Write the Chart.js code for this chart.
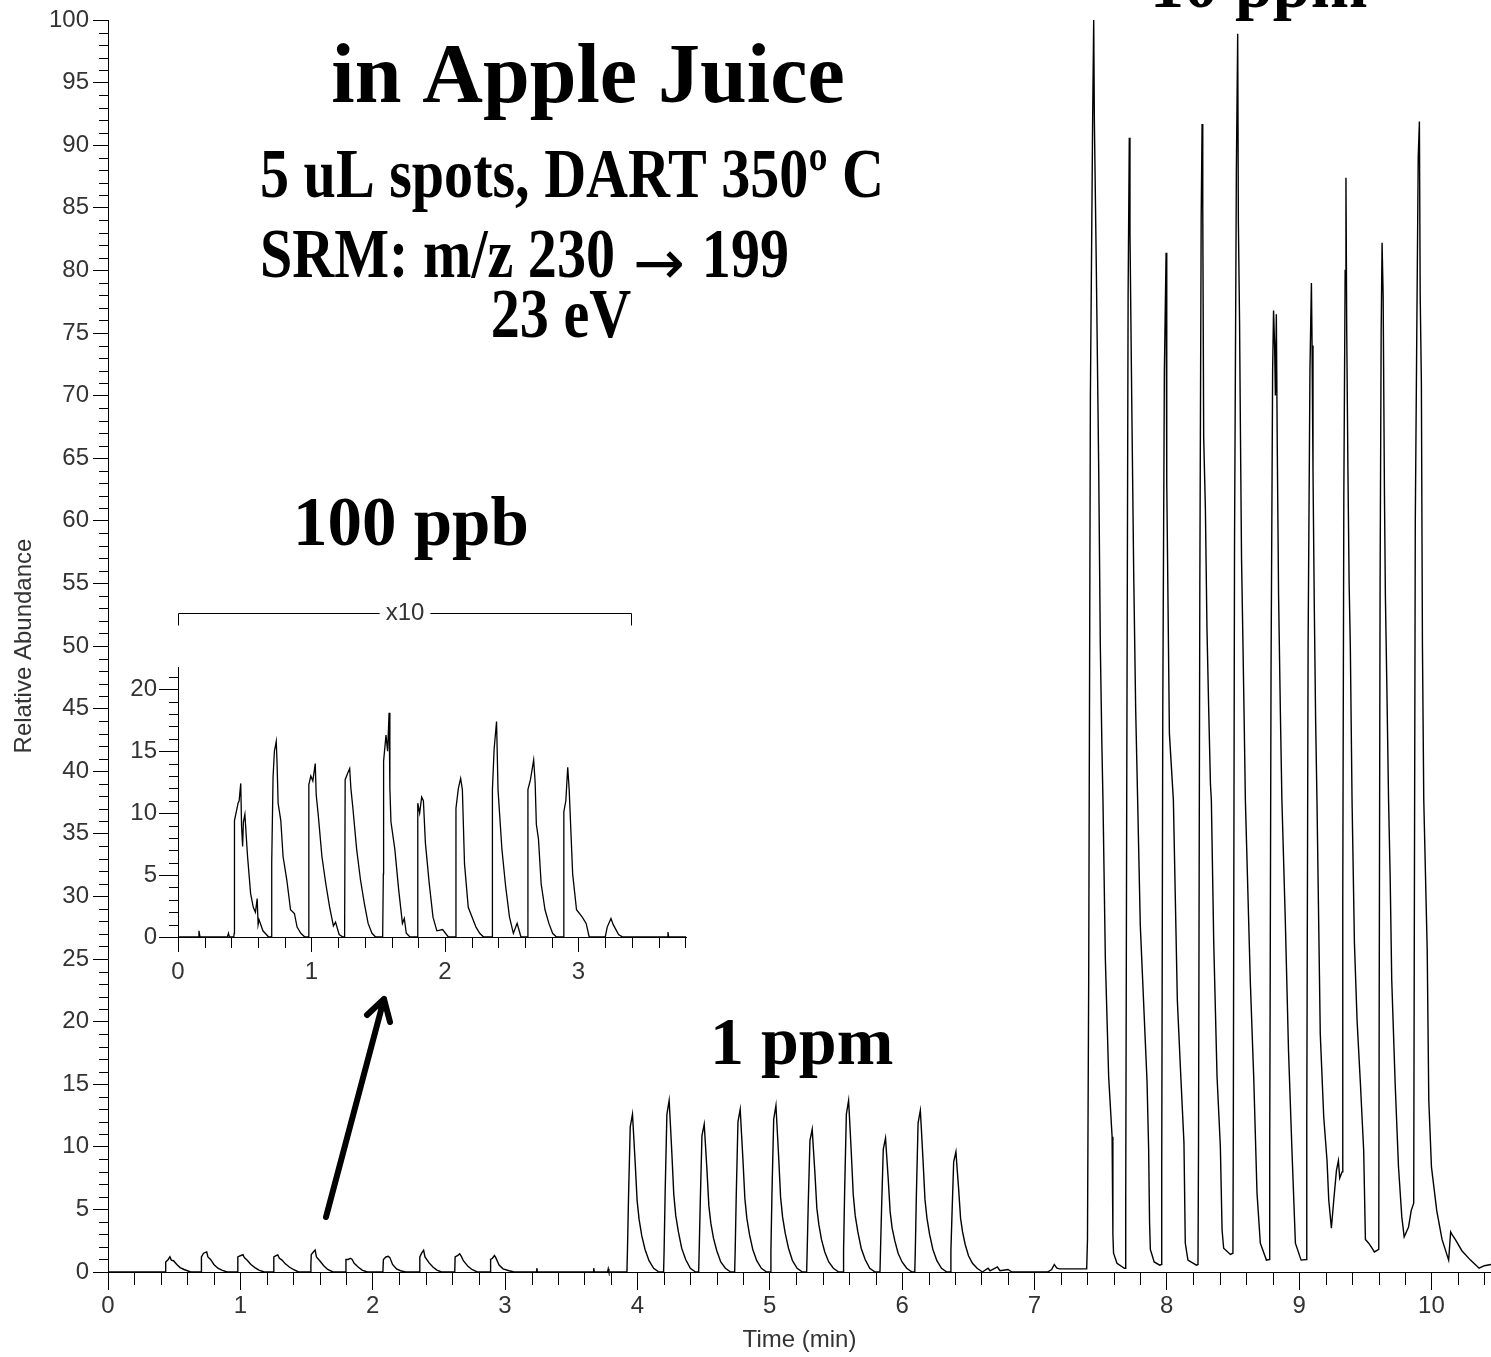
<!DOCTYPE html>
<html lang="en">
<head>
<meta charset="UTF-8" />
<title>SRM chromatogram in Apple Juice</title>
<script src="https://cdn.jsdelivr.net/npm/chart.js"></script>
<style>
  body { margin: 0; background: #fff; overflow: hidden; }
  .wrap { position: relative; width: 1491px; height: 1357px; }
  .main { position: absolute; left: 0; top: 0; width: 1491px; height: 1357px; }
  .inset { position: absolute; left: 100px; top: 595px; width: 600px; height: 410px; }
</style>
</head>
<body>
<div class="wrap">
  <div class="main"><canvas id="mainChart"></canvas></div>
  <div class="inset"><canvas id="insetChart"></canvas></div>
</div>
<script>
// tick labels
const mainXTicks = [0, 1, 2, 3, 4, 5, 6, 7, 8, 9, 10];
const mainYTicks = [0, 5, 10, 15, 20, 25, 30, 35, 40, 45, 50, 55, 60, 65, 70, 75, 80, 85, 90, 95, 100];
const insetXTicks = [0, 1, 2, 3];
const insetYTicks = [0, 5, 10, 15, 20];

// [time (min), relative abundance]
// 100 ppb spots (main scale)
const ppb100Trace = [
  [0, 0], [0.433, 0],
  [0.436, 0.8], [0.455, 1.0], [0.468, 1.22], [0.478, 0.95], [0.495, 0.9], [0.52, 0.6], [0.545, 0.35], [0.575, 0.2], [0.60, 0.1], [0.625, 0],
  [0.703, 0], [0.706, 1.2], [0.722, 1.5], [0.746, 1.6], [0.755, 1.2], [0.775, 1.0], [0.80, 0.6], [0.83, 0.3], [0.86, 0.15], [0.90, 0],
  [0.978, 0], [0.981, 1.2], [1.00, 1.3], [1.02, 1.38], [1.03, 1.15], [1.05, 0.95], [1.08, 0.6], [1.11, 0.35], [1.14, 0.15], [1.18, 0],
  [1.25, 0], [1.253, 1.2], [1.27, 1.3], [1.283, 1.36], [1.295, 1.1], [1.315, 0.95], [1.34, 0.65], [1.37, 0.4], [1.40, 0.2], [1.44, 0],
  [1.53, 0], [1.533, 0.6], [1.536, 1.4], [1.552, 1.6], [1.565, 1.76], [1.575, 1.2], [1.60, 0.9], [1.63, 0.5], [1.66, 0.2], [1.70, 0],
  [1.795, 0], [1.798, 1.0], [1.815, 1.0], [1.832, 1.1], [1.845, 1.0], [1.86, 0.7], [1.89, 0.4], [1.92, 0.15], [1.96, 0],
  [2.077, 0], [2.081, 1.0], [2.10, 1.2], [2.118, 1.25], [2.13, 1.15], [2.15, 0.6], [2.18, 0.25], [2.21, 0.1], [2.25, 0],
  [2.353, 0], [2.356, 1.2], [2.37, 1.5], [2.385, 1.74], [2.395, 1.2], [2.425, 0.75], [2.455, 0.4], [2.485, 0.15], [2.52, 0],
  [2.62, 0], [2.623, 1.2], [2.64, 1.3], [2.657, 1.45], [2.67, 1.25], [2.685, 0.9], [2.72, 0.45], [2.75, 0.2], [2.79, 0],
  [2.888, 0], [2.891, 1.0], [2.905, 1.1], [2.92, 1.32], [2.93, 1.15], [2.955, 0.55], [2.985, 0.25], [3.03, 0.1], [3.07, 0],
  [3.235, 0], [3.24, 0.3], [3.245, 0], [3.665, 0], [3.67, 0.3], [3.675, 0], [3.775, 0], [3.78, 0.25], [3.785, 0]
];

// 1 ppm spots
const ppm1Trace = [
  [3.921, 0], [3.925, 1.7], [3.933, 5.9], [3.946, 11.6], [3.963, 12.6], [3.971, 11.1], [3.983, 8.8], [3.998, 5.7], [4.013, 4.2], [4.033, 2.9], [4.058, 1.8], [4.088, 0.9], [4.123, 0.3], [4.163, 0],
  [4.198, 0], [4.202, 1.7], [4.21, 6.4], [4.223, 12.6], [4.24, 13.7], [4.248, 12.1], [4.26, 9.6], [4.275, 6.2], [4.29, 4.5], [4.31, 3.2], [4.335, 1.9], [4.365, 1.0], [4.40, 0.3], [4.44, 0],
  [4.463, 0], [4.467, 1.7], [4.475, 5.5], [4.488, 10.9], [4.505, 11.8], [4.513, 10.4], [4.525, 8.3], [4.54, 5.3], [4.555, 3.9], [4.575, 2.7], [4.60, 1.7], [4.63, 0.8], [4.665, 0.3], [4.705, 0],
  [4.735, 0], [4.739, 1.7], [4.747, 6.1], [4.76, 12.0], [4.777, 13.0], [4.785, 11.4], [4.797, 9.1], [4.812, 5.9], [4.827, 4.3], [4.847, 3.0], [4.872, 1.8], [4.902, 0.9], [4.937, 0.3], [4.977, 0],
  [5.005, 0], [5.009, 1.7], [5.017, 6.3], [5.03, 12.2], [5.047, 13.3], [5.055, 11.7], [5.067, 9.3], [5.082, 6.0], [5.097, 4.4], [5.117, 3.1], [5.142, 1.9], [5.172, 0.9], [5.207, 0.3], [5.247, 0],
  [5.279, 0], [5.283, 1.7], [5.291, 5.4], [5.304, 10.5], [5.321, 11.4], [5.329, 10.0], [5.341, 8.0], [5.356, 5.1], [5.371, 3.8], [5.391, 2.6], [5.416, 1.6], [5.446, 0.8], [5.481, 0.3], [5.521, 0],
  [5.554, 0], [5.558, 1.7], [5.566, 6.4], [5.579, 12.6], [5.596, 13.7], [5.604, 12.1], [5.616, 9.6], [5.631, 6.2], [5.646, 4.5], [5.666, 3.2], [5.691, 1.9], [5.721, 1.0], [5.756, 0.3], [5.796, 0],
  [5.833, 0], [5.837, 1.7], [5.845, 5.0], [5.858, 9.8], [5.875, 10.7], [5.883, 9.4], [5.895, 7.5], [5.91, 4.8], [5.925, 3.5], [5.945, 2.5], [5.97, 1.5], [6.00, 0.8], [6.035, 0.3], [6.075, 0],
  [6.096, 0], [6.10, 1.7], [6.108, 6.1], [6.121, 11.9], [6.138, 12.9], [6.146, 11.4], [6.158, 9.0], [6.173, 5.8], [6.188, 4.3], [6.208, 3.0], [6.233, 1.8], [6.263, 0.9], [6.298, 0.3], [6.338, 0],
  [6.365, 0], [6.369, 1.7], [6.377, 4.5], [6.39, 8.8], [6.407, 9.6], [6.415, 8.4], [6.427, 6.7], [6.442, 4.3], [6.457, 3.2], [6.477, 2.2], [6.502, 1.3], [6.532, 0.7], [6.567, 0.3], [6.607, 0],
  [6.65, 0.3], [6.665, 0.1], [6.72, 0.4], [6.74, 0.1], [6.80, 0.2], [6.83, 0], [7.10, 0], [7.13, 0.2], [7.15, 0.6], [7.17, 0.3], [7.19, 0.25], [7.395, 0.25]
];

// 10 ppm spots
const ppm10Trace = [
  [7.397, 0.25], [7.401, 2.6], [7.41, 23], [7.423, 70], [7.44, 92], [7.448, 100], [7.453, 92], [7.468, 80], [7.486, 64], [7.498, 50], [7.51, 42], [7.518, 37.7], [7.536, 25], [7.561, 15.6], [7.587, 10.8], [7.593, 3], [7.598, 1.5], [7.624, 0.7], [7.68, 0.3],
  [7.687, 0.3], [7.69, 6], [7.698, 40], [7.708, 78], [7.717, 90.6], [7.722, 83], [7.735, 70], [7.75, 56], [7.765, 45], [7.78, 37.7], [7.80, 27.7], [7.851, 15.2], [7.863, 9.9], [7.87, 4], [7.876, 1.8], [7.905, 0.8], [7.947, 0.55],
  [7.959, 0.6], [7.962, 8], [7.97, 45], [7.982, 72], [7.995, 81.4], [8.00, 63], [8.02, 43], [8.05, 37.7], [8.08, 21.7], [8.105, 15.9], [8.13, 10.3], [8.14, 2.3], [8.16, 0.95], [8.224, 0.55],
  [8.236, 0.6], [8.24, 10], [8.25, 55], [8.26, 84], [8.267, 91.7], [8.272, 85], [8.279, 66.7], [8.292, 60.9], [8.304, 51.3], [8.317, 44.9], [8.33, 39], [8.337, 37.7], [8.355, 26.3], [8.38, 15.6], [8.405, 10], [8.418, 3.35], [8.43, 1.9], [8.481, 1.4],
  [8.50, 1.5], [8.503, 12], [8.512, 58], [8.526, 88], [8.536, 98.9], [8.541, 84], [8.55, 76], [8.556, 68], [8.565, 57], [8.576, 50], [8.585, 44], [8.594, 37.7], [8.632, 23], [8.657, 15.6], [8.682, 6.3], [8.707, 2.3], [8.753, 0.95],
  [8.775, 1.0], [8.778, 10], [8.788, 48], [8.80, 72], [8.807, 76.8], [8.815, 74], [8.821, 70], [8.828, 76.5], [8.835, 66], [8.845, 54], [8.858, 45], [8.87, 37.7], [8.895, 28.4], [8.92, 17.7], [8.946, 9.7], [8.972, 2.3], [9.015, 0.95],
  [9.055, 1.0], [9.058, 12], [9.068, 50], [9.082, 72], [9.093, 79.0], [9.098, 74], [9.105, 64], [9.115, 53], [9.125, 44], [9.135, 37.7], [9.16, 19], [9.186, 12.4], [9.211, 8.9], [9.224, 5.75], [9.244, 3.5], [9.262, 5.75], [9.282, 8.1], [9.297, 8.9], [9.307, 7.5], [9.325, 8],
  [9.33, 30], [9.338, 62], [9.348, 80], [9.354, 87.4], [9.36, 75], [9.369, 64], [9.378, 55], [9.387, 50], [9.40, 37.7], [9.418, 26.3], [9.438, 20.1], [9.463, 15.1], [9.488, 9.7], [9.501, 2.6], [9.526, 2.3], [9.551, 1.9], [9.569, 1.6],
  [9.602, 1.8], [9.605, 20], [9.612, 55], [9.62, 75], [9.627, 82.2], [9.635, 78], [9.645, 62], [9.652, 54], [9.662, 47.5], [9.676, 37.7], [9.688, 31.6], [9.70, 23.3], [9.726, 15], [9.751, 8.4], [9.776, 4.4], [9.794, 2.8], [9.827, 3.6], [9.847, 4.9], [9.866, 5.5],
  [9.87, 25], [9.878, 60], [9.89, 76], [9.90, 89], [9.909, 91.9], [9.915, 78], [9.924, 71], [9.932, 50], [9.942, 37.7], [9.968, 25.7], [9.98, 13.7], [10.0, 8.4], [10.04, 4.9], [10.08, 2.6], [10.13, 0.95], [10.145, 3.2], [10.155, 3.0], [10.18, 2.6], [10.23, 1.7], [10.295, 0.95], [10.36, 0.3], [10.40, 0.5], [10.45, 0.6]
];

// inset: 100 ppb region magnified x10
const insetTrace = [
  [0, 0], [0.155, 0], [0.157, 0.5], [0.165, 0], [0.37, 0], [0.378, 0.3], [0.385, 0],
  [0.418, 0], [0.421, 0.3], [0.423, 9.4], [0.45, 10.8], [0.458, 11], [0.47, 12.4], [0.476, 9], [0.484, 7.3], [0.49, 9.3], [0.501, 9.9], [0.512, 8], [0.521, 6.5], [0.544, 3.5], [0.564, 2.4], [0.58, 2.0], [0.593, 3.1], [0.60, 1.0], [0.607, 1.4], [0.636, 0.5], [0.679, 0],
  [0.70, 0], [0.702, 6], [0.712, 12.9], [0.722, 15.0], [0.736, 15.8], [0.742, 14], [0.75, 10.8], [0.77, 9.4], [0.787, 6.5], [0.815, 4.6], [0.843, 2.2], [0.872, 1.9], [0.892, 0.8], [0.92, 0.3], [0.95, 0],
  [0.975, 0], [0.98, 12.3], [0.995, 13], [1.01, 12.6], [1.028, 14.0], [1.035, 11.5], [1.05, 9.9], [1.078, 6.5], [1.107, 4.3], [1.136, 2.4], [1.164, 0.9], [1.18, 1.2], [1.207, 0.2], [1.236, 0],
  [1.248, 0], [1.252, 12.7], [1.27, 13.2], [1.286, 13.6], [1.295, 12], [1.31, 10.4], [1.338, 7.1], [1.367, 4.6], [1.396, 2.7], [1.424, 1.1], [1.453, 0.3], [1.48, 0],
  [1.533, 0], [1.538, 5.1], [1.54, 14.2], [1.558, 16.3], [1.57, 15], [1.581, 18.1], [1.587, 12], [1.595, 9.3], [1.624, 7.1], [1.653, 3.8], [1.681, 1.1], [1.695, 1.5], [1.71, 0.3], [1.738, 0],
  [1.792, 0], [1.796, 10.8], [1.81, 10], [1.825, 11.3], [1.838, 11.0], [1.853, 7.6], [1.882, 4.3], [1.91, 1.6], [1.939, 0.5], [1.982, 0.6], [2.025, 0],
  [2.078, 0], [2.082, 10.4], [2.10, 12], [2.117, 12.8], [2.13, 11.9], [2.146, 5.9], [2.174, 2.4], [2.203, 1.6], [2.232, 0.8], [2.26, 0.3], [2.289, 0],
  [2.352, 0], [2.355, 11.9], [2.368, 15.2], [2.386, 17.4], [2.397, 11.9], [2.426, 7.1], [2.454, 4.1], [2.483, 1.6], [2.512, 0.3], [2.54, 1.1], [2.569, 0],
  [2.618, 0], [2.621, 11.9], [2.64, 12.7], [2.664, 14.3], [2.675, 12.5], [2.684, 9.1], [2.70, 7.9], [2.72, 4.3], [2.749, 2.2], [2.778, 1.1], [2.806, 0.3], [2.835, 0],
  [2.886, 0], [2.89, 10.1], [2.905, 11], [2.919, 13.7], [2.93, 11.9], [2.956, 5.1], [2.985, 2.2], [3.028, 1.6], [3.057, 1.1], [3.08, 0],
  [3.20, 0], [3.215, 0.8], [3.243, 1.5], [3.26, 1.0], [3.28, 0.6], [3.30, 0.2], [3.33, 0],
  [3.665, 0], [3.67, 0.4], [3.675, 0], [3.805, 0]
];

Chart.defaults.font.family = '"Liberation Sans", Arial, sans-serif';
Chart.defaults.color = '#333';

// short unlabeled ticks between the labeled ones
function minorTicks(xStep, xLen, yStep, yLen) {
  return {
    id: 'minorTicks',
    afterDraw(chart) {
      const { ctx, chartArea, scales: { x, y } } = chart;
      ctx.save();
      ctx.strokeStyle = '#000';
      ctx.lineWidth = 1;
      ctx.beginPath();
      for (let i = 0; i * yStep <= y.max + 1e-9; i++) {
        if (i % 5 === 0) continue;
        const py = Math.round(y.getPixelForValue(i * yStep)) + 0.5;
        ctx.moveTo(chartArea.left - yLen, py);
        ctx.lineTo(chartArea.left, py);
      }
      for (let i = 0; i * xStep <= x.max + 1e-9; i++) {
        if (i % 5 === 0) continue;
        const px = Math.round(x.getPixelForValue(i * xStep)) + 0.5;
        ctx.moveTo(px, chartArea.bottom);
        ctx.lineTo(px, chartArea.bottom + xLen);
      }
      ctx.stroke();
      ctx.restore();
    }
  };
}

function serifText(ctx, text, x, y, size, sx, align) {
  ctx.save();
  ctx.translate(x, y);
  ctx.scale(sx, 1);
  ctx.font = 'bold ' + size + 'px "Liberation Serif", "Times New Roman", serif';
  ctx.textAlign = align;
  ctx.textBaseline = 'alphabetic';
  ctx.fillStyle = '#000';
  ctx.fillText(text, 0, 0);
  ctx.restore();
}

const mainNotes = {
  id: 'mainNotes',
  afterDraw(chart) {
    const ctx = chart.ctx;
    serifText(ctx, '10 ppm', 1150, 7, 68, 1, 'left');
    serifText(ctx, 'in Apple Juice', 588, 102, 84, 1, 'center');
    serifText(ctx, '5 uL spots, DART 350º C', 260, 197, 70, 0.83, 'left');
    serifText(ctx, 'SRM: m/z 230', 260, 277, 70, 0.83, 'left');
    serifText(ctx, '199', 789, 277, 70, 0.83, 'right');
    // the arrow glyph is wider in the original than in Liberation Serif
    ctx.save();
    ctx.font = '62px "DejaVu Sans", sans-serif';
    ctx.textAlign = 'center';
    ctx.textBaseline = 'alphabetic';
    ctx.fillStyle = '#000';
    ctx.fillText('\u2192', 659, 284);
    ctx.restore();
    serifText(ctx, '23 eV', 561, 337, 70, 0.83, 'center');
    serifText(ctx, '100 ppb', 293, 545, 69, 1, 'left');
    serifText(ctx, '1 ppm', 710, 1064, 68, 1, 'left');

    // arrow pointing at the inset
    ctx.save();
    ctx.strokeStyle = '#000';
    ctx.lineWidth = 6;
    ctx.lineCap = 'round';
    ctx.lineJoin = 'round';
    ctx.beginPath();
    ctx.moveTo(326, 1217);
    ctx.lineTo(384, 999);
    ctx.moveTo(367, 1015);
    ctx.lineTo(384, 999);
    ctx.lineTo(390, 1022);
    ctx.stroke();
    ctx.restore();
  }
};

const insetNotes = {
  id: 'insetNotes',
  afterDraw(chart) {
    const { ctx, scales: { x } } = chart;
    const x0 = Math.round(x.getPixelForValue(0)) + 0.5;
    const x1 = Math.round(x.getPixelForValue(3.39)) + 0.5;
    const yb = 18.5;
    ctx.save();
    ctx.font = '24px "Liberation Sans", Arial, sans-serif';
    const label = 'x10';
    const w = ctx.measureText(label).width;
    const mid = (x0 + x1) / 2;
    ctx.strokeStyle = '#000';
    ctx.lineWidth = 1;
    ctx.beginPath();
    ctx.moveTo(x0, yb + 12);
    ctx.lineTo(x0, yb);
    ctx.lineTo(mid - w / 2 - 6, yb);
    ctx.moveTo(mid + w / 2 + 6, yb);
    ctx.lineTo(x1, yb);
    ctx.lineTo(x1, yb + 12);
    ctx.stroke();
    ctx.fillStyle = '#333';
    ctx.textAlign = 'center';
    ctx.textBaseline = 'middle';
    ctx.fillText(label, mid, yb);
    ctx.restore();
  }
};

const mainTrace = ppb100Trace.concat(ppm1Trace, ppm10Trace);

new Chart(document.getElementById('mainChart'), {
  type: 'scatter',
  data: {
    datasets: [{
      data: mainTrace,
      showLine: true,
      borderColor: '#000',
      borderWidth: 1.4,
      pointRadius: 0,
      tension: 0,
      clip: 4
    }]
  },
  options: {
    responsive: true,
    maintainAspectRatio: false,
    animation: false,
    events: [],
    layout: { padding: { top: 20, right: 0, bottom: 0, left: 0 } },
    plugins: { legend: { display: false }, tooltip: { enabled: false } },
    scales: {
      x: {
        type: 'linear',
        min: 0,
        max: 10.45,
        afterFit: s => { s.height = 85; },
        afterBuildTicks: s => { s.ticks = mainXTicks.map(v => ({ value: v })); },
        grid: { drawOnChartArea: false, tickLength: 18, color: '#000' },
        border: { color: '#000', width: 1 },
        ticks: { color: '#333', font: { size: 24 }, padding: 2, maxRotation: 0, autoSkip: false },
        title: { display: true, text: 'Time (min)', color: '#333', font: { size: 24 }, padding: { top: 0, bottom: 2 } }
      },
      y: {
        type: 'linear',
        min: 0,
        max: 100,
        afterFit: s => { s.width = 108; },
        afterBuildTicks: s => { s.ticks = mainYTicks.map(v => ({ value: v })); },
        grid: { drawOnChartArea: false, tickLength: 15, color: '#000' },
        border: { color: '#000', width: 1 },
        ticks: { color: '#333', font: { size: 24 }, padding: 4, autoSkip: false },
        title: { display: true, text: 'Relative Abundance', color: '#333', font: { size: 24 }, padding: { top: 10, bottom: 0 } }
      }
    }
  },
  plugins: [minorTicks(0.2, 13, 1, 9), mainNotes]
});

new Chart(document.getElementById('insetChart'), {
  type: 'scatter',
  data: {
    datasets: [{
      data: insetTrace,
      showLine: true,
      borderColor: '#000',
      borderWidth: 1.3,
      pointRadius: 0,
      tension: 0,
      clip: 4
    }]
  },
  options: {
    responsive: true,
    maintainAspectRatio: false,
    animation: false,
    events: [],
    layout: { padding: { top: 72, right: 14, bottom: 0, left: 0 } },
    plugins: { legend: { display: false }, tooltip: { enabled: false } },
    scales: {
      x: {
        type: 'linear',
        min: 0,
        max: 3.805,
        afterFit: s => { s.height = 68; },
        afterBuildTicks: s => { s.ticks = insetXTicks.map(v => ({ value: v })); },
        grid: { drawOnChartArea: false, tickLength: 15, color: '#000' },
        border: { color: '#000', width: 1 },
        ticks: { color: '#333', font: { size: 24 }, padding: 6, maxRotation: 0, autoSkip: false }
      },
      y: {
        type: 'linear',
        min: 0,
        max: 21.8,
        afterFit: s => { s.width = 78; },
        afterBuildTicks: s => { s.ticks = insetYTicks.map(v => ({ value: v })); },
        grid: { drawOnChartArea: false, tickLength: 19, color: '#000' },
        border: { color: '#000', width: 1 },
        ticks: { color: '#333', font: { size: 24 }, padding: 2, autoSkip: false }
      }
    }
  },
  plugins: [minorTicks(0.2, 11, 1, 9), insetNotes]
});
</script>
</body>
</html>
